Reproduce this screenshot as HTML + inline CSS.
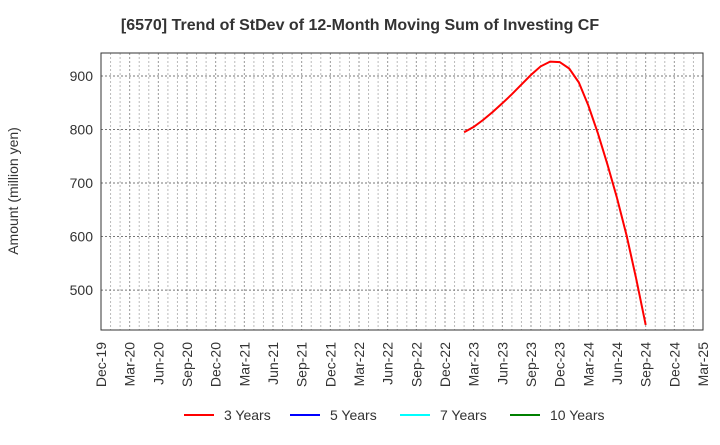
<!DOCTYPE html>
<html><head><meta charset="utf-8"><style>
body{margin:0;background:#fff;font-family:"Liberation Sans",Arial,sans-serif}
svg text{font-family:"Liberation Sans",Arial,sans-serif}
</style></head><body>
<svg id="c" width="720" height="440" xmlns="http://www.w3.org/2000/svg">
<text x="360" y="30" text-anchor="middle" font-size="16" font-weight="bold" fill="#333">[6570]  Trend of StDev of 12-Month Moving Sum of Investing CF</text>
<text transform="translate(18,191) rotate(-90)" text-anchor="middle" font-size="14" fill="#333">Amount (million yen)</text>
<g id="grid"></g><g id="axes"></g><g id="series"></g><g id="legend"></g>
</svg>
<script>
const months = ["Feb-23","Mar-23","Apr-23","May-23","Jun-23","Jul-23","Aug-23","Sep-23","Oct-23","Nov-23","Dec-23","Jan-24","Feb-24","Mar-24","Apr-24","May-24","Jun-24","Jul-24","Aug-24","Sep-24"];
const startIndex = 38;
const series3 = [795,805,818,833,849,866,884,902,918,927,926,914,888,845,793,735,672,602,522,435];
const yTicks = [500,600,700,800,900];
const xLabels = ["Dec-19","Mar-20","Jun-20","Sep-20","Dec-20","Mar-21","Jun-21","Sep-21","Dec-21","Mar-22","Jun-22","Sep-22","Dec-22","Mar-23","Jun-23","Sep-23","Dec-23","Mar-24","Jun-24","Sep-24","Dec-24","Mar-25"];
const legendNames = ["3 Years","5 Years","7 Years","10 Years"];
const legendColors = ["#ff0000","#0000ff","#00ffff","#008000"];
const L=101,R=703,T=53,B=330,NM=63,YMIN=425.4,YMAX=943;
const xs=i=>L+i*(R-L)/NM;
const ys=v=>B-(v-YMIN)/(YMAX-YMIN)*(B-T);
const NS="http://www.w3.org/2000/svg";
function mk(tag,attrs,parent,txt){const e=document.createElementNS(NS,tag);for(const k in attrs)e.setAttribute(k,attrs[k]);if(txt!==undefined)e.textContent=txt;parent.appendChild(e);return e;}
const grid=document.getElementById('grid'),axes=document.getElementById('axes'),ser=document.getElementById('series'),leg=document.getElementById('legend');
for(let i=1;i<NM;i++){const l=mk('line',{x1:xs(i),x2:xs(i),y1:T,y2:B,stroke:i%3==0?'#999':'#bbb','stroke-width':1,'stroke-dasharray':'2,2'},grid);

}
yTicks.forEach(v=>{const l=mk('line',{x1:L,x2:R,y1:ys(v),y2:ys(v),stroke:'#777','stroke-width':1,'stroke-dasharray':'2,2'},grid);


const t=mk('text',{x:L-8,y:ys(v)+5,'text-anchor':'end','font-size':14,fill:'#333'},axes,v);

});
const fr=mk('rect',{x:L,y:T,width:R-L,height:B-T,fill:'none',stroke:'#333','stroke-width':1},axes);


xLabels.forEach((s,i)=>{const x=xs(i*3);const t=mk('text',{transform:`translate(${x+5},${B+12}) rotate(-90)`,'text-anchor':'end','font-size':14,fill:'#333'},axes,s);

});
const pts=series3.map((v,i)=>xs(startIndex+i).toFixed(1)+','+ys(v).toFixed(1)).join(' ');
const pl=mk('polyline',{points:pts,fill:'none',stroke:'#ff0000','stroke-width':2},ser);


const lx=[184,290,400,510];
legendNames.forEach((n,i)=>{const g=mk('g',{},leg);


mk('line',{x1:lx[i],x2:lx[i]+30,y1:415,y2:415,stroke:legendColors[i],'stroke-width':2},g);
mk('text',{x:lx[i]+40,y:420,'font-size':14,fill:'#333'},g,n);});
</script>
</body></html>
